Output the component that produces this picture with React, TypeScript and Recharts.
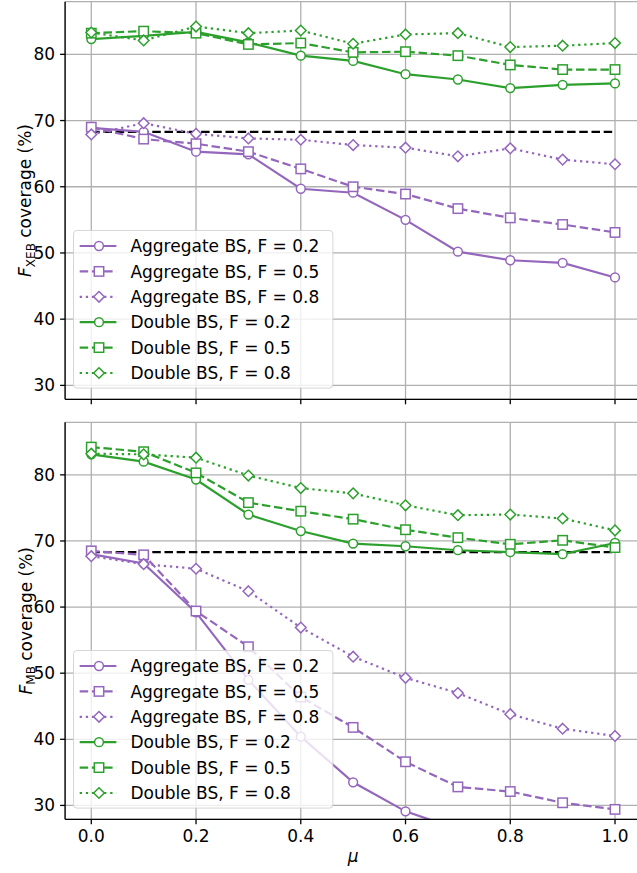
import { LineChart, Line, XAxis, YAxis, CartesianGrid } from "recharts"

// x values (mu) and axis ticks
const MU = [0, 0.1, 0.2, 0.3, 0.4, 0.5, 0.6, 0.7, 0.8, 0.9, 1.0]
const X_TICKS = [0, 0.2, 0.4, 0.6, 0.8, 1.0]
const Y_TICKS = [30, 40, 50, 60, 70, 80]
const BASELINE = 68.3

// top panel: F_XEB coverage (%)
const XEB_AGG_02 = [68.9, 68.3, 65.3, 64.9, 59.7, 59.1, 55.0, 50.2, 48.9, 48.5, 46.3]
const XEB_AGG_05 = [69.0, 67.2, 66.5, 65.3, 62.7, 60.0, 58.9, 56.7, 55.3, 54.3, 53.1]
const XEB_AGG_08 = [67.9, 69.6, 68.0, 67.3, 67.1, 66.3, 65.9, 64.6, 65.8, 64.1, 63.4]
const XEB_DBL_02 = [82.3, 82.8, 83.4, 81.8, 79.8, 79.0, 77.0, 76.2, 74.9, 75.4, 75.6]
const XEB_DBL_05 = [83.2, 83.5, 83.2, 81.5, 81.7, 80.3, 80.4, 79.8, 78.4, 77.7, 77.7]
const XEB_DBL_08 = [83.3, 82.1, 84.2, 83.2, 83.6, 81.6, 83.0, 83.2, 81.1, 81.3, 81.7]

// bottom panel: F_MB coverage (%)
const MB_AGG_02 = [68.0, 66.6, 59.2, 49.0, 40.4, 33.5, 29.1, 26.4, 25.5, 25.0, 24.5]
const MB_AGG_05 = [68.5, 67.9, 59.4, 54.0, 46.4, 41.8, 36.6, 32.8, 32.1, 30.4, 29.4]
const MB_AGG_08 = [67.7, 66.5, 65.8, 62.4, 56.9, 52.5, 49.3, 47.0, 43.8, 41.6, 40.5]
const MB_DBL_02 = [83.1, 82.0, 79.3, 74.0, 71.5, 69.6, 69.2, 68.6, 68.3, 68.0, 69.7]
const MB_DBL_05 = [84.2, 83.5, 80.3, 75.8, 74.5, 73.3, 71.7, 70.5, 69.5, 70.1, 69.0]
const MB_DBL_08 = [83.2, 83.1, 82.6, 79.9, 78.0, 77.2, 75.4, 73.9, 74.0, 73.4, 71.6]

const SERIES_NAMES = [
  "Aggregate BS, F = 0.2",
  "Aggregate BS, F = 0.5",
  "Aggregate BS, F = 0.8",
  "Double BS, F = 0.2",
  "Double BS, F = 0.5",
  "Double BS, F = 0.8",
]

const PURPLE = "#9467bd"
const GREEN = "#2ca02c"
const DASHED = "8.5 3.7"
const DOTTED = "2.3 3.8"
const FONT = "'DejaVu Sans', sans-serif"

type Shape = "circle" | "square" | "diamond"

const STYLES: { color: string; dash?: string; shape: Shape }[] = [
  { color: PURPLE, shape: "circle" },
  { color: PURPLE, dash: DASHED, shape: "square" },
  { color: PURPLE, dash: DOTTED, shape: "diamond" },
  { color: GREEN, shape: "circle" },
  { color: GREEN, dash: DASHED, shape: "square" },
  { color: GREEN, dash: DOTTED, shape: "diamond" },
]

function Marker({ cx, cy, shape, color }: { cx: number; cy: number; shape: Shape; color: string }) {
  const common = { fill: "#fff", stroke: color, strokeWidth: 1.5, strokeDasharray: "none" }
  if (shape === "circle") return <circle cx={cx} cy={cy} r={4.4} {...common} />
  if (shape === "square") return <rect x={cx - 4.7} y={cy - 4.7} width={9.4} height={9.4} {...common} />
  const d = 5.3
  return <polygon points={`${cx},${cy - d} ${cx + d},${cy} ${cx},${cy + d} ${cx - d},${cy}`} {...common} />
}

function makeDot(shape: Shape, color: string) {
  return (p: any) => {
    if (p.cx == null || p.cy == null) return <g key={p.index} />
    return (
      <g key={p.index}>
        <Marker cx={p.cx} cy={p.cy} shape={shape} color={color} />
      </g>
    )
  }
}

function LegendBox({ top }: { top: number }) {
  const w = 259.4
  const h = 157.6
  return (
    <svg style={{ position: "absolute", left: 73.3, top }} width={w + 2} height={h + 2}>
      <rect x={0.5} y={0.5} width={w} height={h} rx={3.5} fill="#fff" fillOpacity={0.8} stroke="#cccccc" strokeOpacity={0.8} />
      {SERIES_NAMES.map((name, i) => {
        const s = STYLES[i]
        const y = 16 + i * 25.4
        return (
          <g key={name}>
            <line x1={6.7} x2={43.4} y1={y} y2={y} stroke={s.color} strokeWidth={2.2} strokeDasharray={s.dash} />
            <Marker cx={26} cy={y} shape={s.shape} color={s.color} />
            <text x={57.4} y={y + 6.2} fontSize={17} fontFamily={FONT} fill="#000">
              {name}
            </text>
          </g>
        )
      })}
    </svg>
  )
}

function Panel({ values, sub, bottom }: { values: number[][]; sub: string; bottom: boolean }) {
  const rows = MU.map((mu, i) => {
    const r: Record<string, number> = { mu, ref: BASELINE }
    values.forEach((v, k) => (r["s" + k] = v[i]))
    return r
  })
  const marginTop = bottom ? 2.3 : 1.7
  const plotH = bottom ? 397 : 397.6
  const xH = bottom ? 52 : 12
  const height = marginTop + plotH + xH
  const axisStroke = { stroke: "#000", strokeWidth: 1.3 }

  return (
    <div style={{ position: "absolute", left: 0, top: bottom ? 420 : 0, width: 645, height }}>
      <LineChart width={645} height={height} data={rows} margin={{ top: marginTop, right: 3.8, left: 0, bottom: 0 }}>
        <CartesianGrid stroke="#b0b0b0" strokeWidth={1.3} />
        <XAxis
          dataKey="mu"
          type="number"
          domain={[-0.05, 1.05]}
          ticks={X_TICKS}
          height={xH}
          tickSize={5}
          tickMargin={6}
          axisLine={axisStroke}
          tickLine={axisStroke}
          stroke="#000"
          tick={{ fill: "#000", fontSize: 17, fontFamily: FONT }}
          tickFormatter={(v: number) => (bottom ? v.toFixed(1) : "")}
          label={
            bottom
              ? {
                  content: (p: any) => {
                    const vb = p.viewBox || {}
                    return (
                      <text x={vb.x + vb.width / 2} y={vb.y + 43} textAnchor="middle" fontSize={17} fontStyle="italic" fontFamily={FONT} fill="#000">
                        μ
                      </text>
                    )
                  },
                }
              : undefined
          }
        />
        <XAxis
          xAxisId="top"
          orientation="top"
          type="number"
          domain={[-0.05, 1.05]}
          height={0}
          tick={false}
          tickLine={false}
          axisLine={axisStroke}
        />
        <YAxis
          type="number"
          domain={[27.9, 87.95]}
          allowDataOverflow
          ticks={Y_TICKS}
          width={65.1}
          tickSize={5}
          tickMargin={5}
          axisLine={axisStroke}
          tickLine={axisStroke}
          stroke="#000"
          tick={{ fill: "#000", fontSize: 17, fontFamily: FONT }}
          label={{
            content: (p: any) => {
              const vb = p.viewBox || {}
              const cy = vb.y + vb.height / 2
              return (
                <text
                  x={31.5}
                  y={cy}
                  transform={`rotate(-90, 31.5, ${cy})`}
                  textAnchor="middle"
                  fontSize={17}
                  fontFamily={FONT}
                  fill="#000"
                >
                  <tspan fontStyle="italic">F</tspan>
                  <tspan fontSize={12} dy={3.5}>{sub}</tspan>
                  <tspan dy={-3.5}> coverage (%)</tspan>
                </text>
              )
            },
          }}
        />
        <Line
          dataKey="ref"
          stroke="#000"
          strokeWidth={2.2}
          strokeDasharray={DASHED}
          dot={false}
          activeDot={false}
          isAnimationActive={false}
        />
        {STYLES.map((s, k) => (
          <Line
            key={k}
            dataKey={"s" + k}
            name={SERIES_NAMES[k]}
            type="linear"
            stroke={s.color}
            strokeWidth={2.2}
            strokeDasharray={s.dash}
            dot={makeDot(s.shape, s.color)}
            activeDot={false}
            isAnimationActive={false}
          />
        ))}
      </LineChart>
      <LegendBox top={marginTop + plotH - 11 - 157.6 - 0.5} />
    </div>
  )
}

export default function App() {
  return (
    <div style={{ position: "absolute", left: 0, top: 0, width: 637, height: 873, overflow: "hidden", background: "#fff" }}>
      <Panel values={[XEB_AGG_02, XEB_AGG_05, XEB_AGG_08, XEB_DBL_02, XEB_DBL_05, XEB_DBL_08]} sub="XEB" bottom={false} />
      <Panel values={[MB_AGG_02, MB_AGG_05, MB_AGG_08, MB_DBL_02, MB_DBL_05, MB_DBL_08]} sub="MB" bottom={true} />
    </div>
  )
}
